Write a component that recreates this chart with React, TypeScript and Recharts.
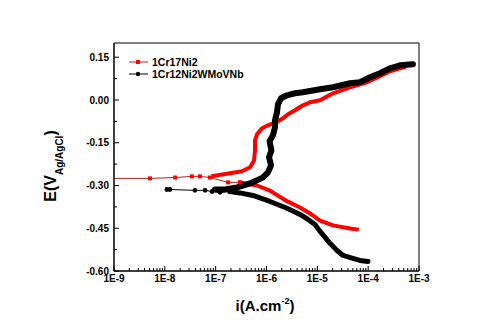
import React from 'react';
import { LineChart, Line, XAxis, YAxis, ReferenceArea } from 'recharts';

// ---- tick values / labels ----
const xMajorTicks = [1e-9, 1e-8, 1e-7, 1e-6, 1e-5, 1e-4, 1e-3];
const xTickLabels = ['1E-9', '1E-8', '1E-7', '1E-6', '1E-5', '1E-4', '1E-3'];
const xMinorMultipliers = [2, 3, 4, 5, 6, 7, 8, 9];
const yMajorTicks = [-0.6, -0.45, -0.3, -0.15, 0, 0.15];
const yTickLabels = ['-0.60', '-0.45', '-0.30', '-0.15', '0.00', '0.15'];
const yMinorTicks = [-0.525, -0.375, -0.225, -0.075, 0.075];

const seriesNames = ['1Cr17Ni2', '1Cr12Ni2WMoVNb'];

// ---- 1Cr17Ni2 : [i (A/cm2), E (V)] ----
const redCathodic: [number, number][] = [
  [6.0e-5, -0.454], [4.4e-5, -0.451], [2.04e-5, -0.44], [1.13e-5, -0.423],
  [7.2e-6, -0.398], [4.56e-6, -0.377], [2.53e-6, -0.355], [1.17e-6, -0.318],
  [6.5e-7, -0.3], [3.8e-7, -0.293], [3.0e-7, -0.289],
];
const redTail: [number, number][] = [
  [3.0e-7, -0.289], [1.75e-7, -0.289], [7.7e-8, -0.272], [4.9e-8, -0.268],
  [3.4e-8, -0.268], [1.6e-8, -0.272], [5.1e-9, -0.275], [1e-9, -0.275],
];
const redAnodic: [number, number][] = [
  [9.0e-8, -0.2665], [1.91e-7, -0.257], [3.3e-7, -0.25], [4.74e-7, -0.236],
  [5.68e-7, -0.212], [5.94e-7, -0.177], [5.94e-7, -0.1415], [6.5e-7, -0.1205],
  [8.16e-7, -0.0994], [1.07e-6, -0.0888], [1.34e-6, -0.0818], [1.68e-6, -0.0748],
  [2.11e-6, -0.0643], [2.65e-6, -0.0502], [3.64e-6, -0.0362], [5.22e-6, -0.0186],
  [7.18e-6, -0.0081], [1.13e-5, -0.001], [2.04e-5, 0.0236], [4.4e-5, 0.0446],
  [9.5e-5, 0.0622], [1.71e-4, 0.0833], [2.69e-4, 0.1008], [4.23e-4, 0.1114],
  [5.07e-4, 0.1149],
];

// ---- 1Cr12Ni2WMoVNb : [i (A/cm2), E (V)] ----
const blackCathodic: [number, number][] = [
  [9.9e-5, -0.5665], [6.9e-5, -0.563], [5.0e-5, -0.556], [3.2e-5, -0.5455],
  [2.44e-5, -0.528], [1.77e-5, -0.503], [1.42e-5, -0.482], [1.13e-5, -0.461],
  [9.0e-6, -0.437], [6.56e-6, -0.419], [4.56e-6, -0.4015], [2.53e-6, -0.38],
  [1.17e-6, -0.356], [5.43e-7, -0.335], [3.0e-7, -0.326], [1.9e-7, -0.321],
];
const blackTail: [number, number][] = [
  [1.9e-7, -0.321], [1.22e-7, -0.324], [8.5e-8, -0.321], [6.2e-8, -0.317],
  [3.9e-8, -0.317], [1.26e-8, -0.314], [1.1e-8, -0.314],
];
const blackAnodic: [number, number][] = [
  [9.7e-8, -0.3136], [1.53e-7, -0.3136], [2.63e-7, -0.3066], [4.74e-7, -0.2926],
  [6.5e-7, -0.282], [8.54e-7, -0.2715], [1.07e-6, -0.2539], [1.23e-6, -0.229],
  [1.12e-6, -0.201], [1.25e-6, -0.177], [1.15e-6, -0.145], [1.34e-6, -0.124],
  [1.47e-6, -0.096], [1.47e-6, -0.071], [1.61e-6, -0.043], [1.68e-6, -0.015],
  [1.93e-6, 0.006], [2.53e-6, 0.0165], [3.64e-6, 0.0236], [5.22e-6, 0.0271],
  [1.13e-5, 0.0376], [2.04e-5, 0.0446], [4.4e-5, 0.0587], [6.9e-5, 0.0622],
  [1.09e-4, 0.0798], [1.71e-4, 0.0938], [2.69e-4, 0.1114], [4.23e-4, 0.1219],
  [7.6e-4, 0.1254],
];

const toPts = (arr: [number, number][]) => arr.map(([x, y]) => ({ x, y }));

const xAllTicks: number[] = [...xMajorTicks];
xMajorTicks.slice(0, -1).forEach((d) => xMinorMultipliers.forEach((m) => xAllTicks.push(d * m)));
xAllTicks.sort((a, b) => a - b);
const yAllTicks = [...yMajorTicks, ...yMinorTicks].sort((a, b) => a - b);

const FONT = '"Liberation Sans", Arial, sans-serif';
const RED = '#ff0000';
const DARKRED = '#b22222';

const XTick = (props: any) => {
  const { x, y, payload } = props;
  const v = payload.value;
  const idx = xMajorTicks.findIndex((t) => Math.abs(Math.log10(t) - Math.log10(v)) < 1e-6);
  const major = idx >= 0;
  return (
    <g>
      <line x1={x} x2={x} y1={y} y2={y - (major ? 5 : 3)} stroke="#000" strokeWidth={1} />
      {major && (
        <text x={x} y={y + 4} dy="0.71em" textAnchor="middle" fontFamily={FONT} fontWeight="bold" fontSize={10} fill="#000">
          {xTickLabels[idx]}
        </text>
      )}
    </g>
  );
};

const YTick = (props: any) => {
  const { x, y, payload } = props;
  const v = payload.value;
  const idx = yMajorTicks.findIndex((t) => Math.abs(t - v) < 1e-9);
  const major = idx >= 0;
  return (
    <g>
      <line x1={x} x2={x + (major ? 5 : 3)} y1={y} y2={y} stroke="#000" strokeWidth={1} />
      {major && (
        <text x={x - 5} y={y} dy="0.36em" textAnchor="end" fontFamily={FONT} fontWeight="bold" fontSize={10} fill="#000">
          {yTickLabels[idx]}
        </text>
      )}
    </g>
  );
};

const SquareDot = (props: any) => {
  const { cx, cy, index } = props;
  if (index === redTail.length - 1 || cx == null) return <g key={index} />;
  return <rect key={index} x={cx - 2} y={cy - 2} width={4} height={4} fill={RED} />;
};

const RoundDot = (props: any) => {
  const { cx, cy, index } = props;
  if (cx == null) return <g key={index} />;
  return <circle key={index} cx={cx} cy={cy} r={2.4} fill="#000" />;
};

export default function App() {
  return (
    <div style={{ position: 'absolute', left: 0, top: 0, width: 494, height: 326, background: '#fff' }}>
      <LineChart width={494} height={326} margin={{ top: 43, right: 75, bottom: 25, left: 64 }}>
        <XAxis
          dataKey="x"
          type="number"
          scale="log"
          domain={[1e-9, 1e-3]}
          allowDataOverflow
          ticks={xAllTicks}
          interval={0}
          tick={<XTick />}
          tickSize={0}
          tickMargin={0}
          tickLine={false}
          height={30}
          axisLine={{ stroke: '#000', strokeWidth: 1 }}
        />
        <YAxis
          type="number"
          domain={[-0.6, 0.2]}
          allowDataOverflow
          ticks={yAllTicks}
          interval={0}
          tick={<YTick />}
          tickSize={0}
          tickMargin={0}
          tickLine={false}
          width={50}
          axisLine={{ stroke: '#000', strokeWidth: 1 }}
        />
        <ReferenceArea x1={1e-9} x2={1e-3} y1={-0.6} y2={0.2} fill="none" stroke="#000" strokeWidth={1} ifOverflow="visible" />
        <Line data={toPts(redTail)} dataKey="y" stroke={DARKRED} strokeWidth={1} dot={<SquareDot />} isAnimationActive={false} name={seriesNames[0]} />
        <Line data={toPts(redCathodic)} dataKey="y" stroke={RED} strokeWidth={4} strokeLinejoin="round" strokeLinecap="square" dot={false} isAnimationActive={false} />
        <Line data={toPts(redAnodic)} dataKey="y" stroke={RED} strokeWidth={4} strokeLinejoin="round" strokeLinecap="square" dot={false} isAnimationActive={false} />
        <Line data={toPts(blackTail)} dataKey="y" stroke="#000" strokeWidth={1} dot={<RoundDot />} isAnimationActive={false} name={seriesNames[1]} />
        <Line data={toPts(blackCathodic)} dataKey="y" stroke="#000" strokeWidth={5} strokeLinejoin="round" strokeLinecap="round" dot={false} isAnimationActive={false} />
        <Line data={toPts(blackAnodic)} dataKey="y" stroke="#000" strokeWidth={6} strokeLinejoin="round" strokeLinecap="round" dot={false} isAnimationActive={false} />
      </LineChart>
      <svg width={494} height={326} style={{ position: 'absolute', left: 0, top: 0, pointerEvents: 'none' }}>
        {/* legend */}
        <line x1={129} x2={148} y1={62} y2={62} stroke={DARKRED} strokeWidth={1} />
        <rect x={136} y={60} width={4} height={4} fill={RED} />
        <text x={152} y={62} dy="0.36em" fontFamily={FONT} fontWeight="bold" fontSize={10.5} fill="#000">{seriesNames[0]}</text>
        <line x1={129} x2={148} y1={74} y2={74} stroke="#000" strokeWidth={1} />
        <circle cx={138} cy={74} r={2.2} fill="#000" />
        <text x={152} y={74} dy="0.36em" fontFamily={FONT} fontWeight="bold" fontSize={10.5} fill="#000">{seriesNames[1]}</text>
        {/* y axis title */}
        <text transform="translate(56,166) rotate(-90)" textAnchor="middle" fontFamily={FONT} fontWeight="bold" fontSize={16} fill="#000">
          E(V<tspan fontSize={10} dy={7}>Ag/AgCl</tspan><tspan dy={-7}>)</tspan>
        </text>
        {/* x axis title */}
        <text x={265} y={311} textAnchor="middle" fontFamily={FONT} fontWeight="bold" fontSize={15} fill="#000">
          i(A.cm<tspan fontSize={9} dy={-7}>-2</tspan><tspan dy={7}>)</tspan>
        </text>
      </svg>
    </div>
  );
}
